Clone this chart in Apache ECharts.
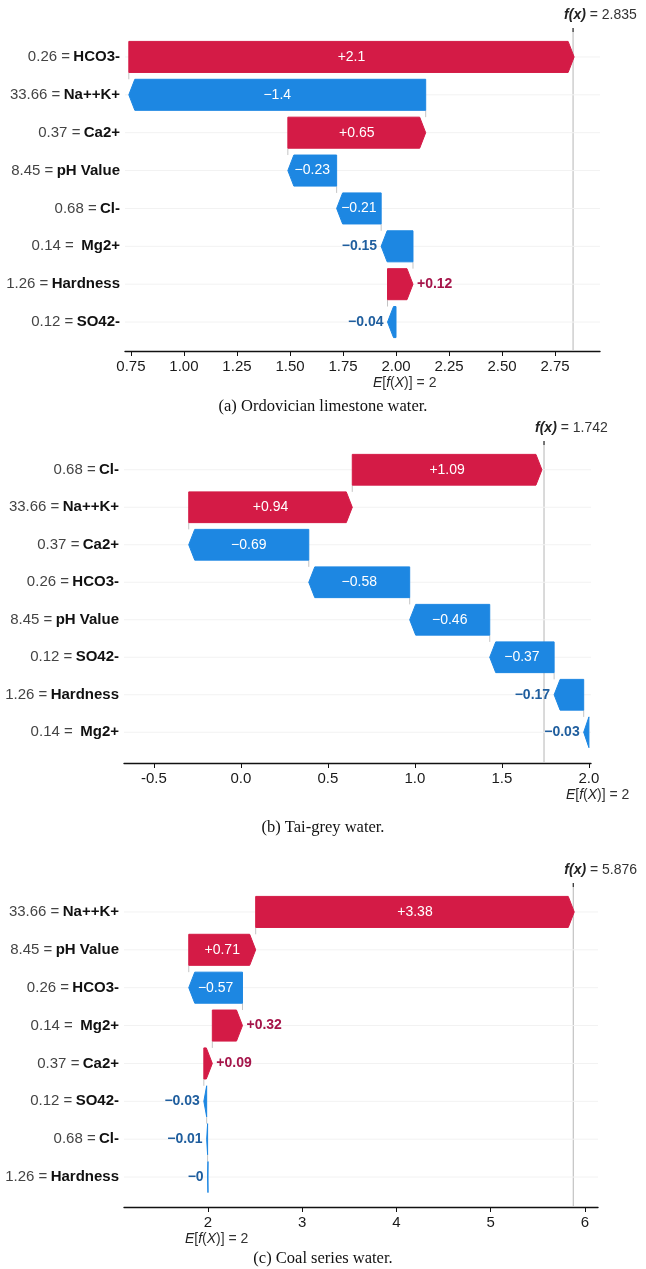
<!DOCTYPE html>
<html>
<head>
<meta charset="utf-8">
<script src="https://cdn.jsdelivr.net/npm/echarts@6/dist/echarts.min.js"></script>
<style>
html,body{margin:0;padding:0;background:#fff;}
#chart{width:646px;height:1269px;}
</style>
</head>
<body>
<div id="chart"></div>
<script>
// ---------- data ----------
const BASE_VALUE = 2;

const CATS_A = ['HCO3-', 'Na++K+', 'Ca2+', 'pH Value', 'Cl-', ' Mg2+', 'Hardness', 'SO42-'];
const FEAT_A = ['0.26', '33.66', '0.37', '8.45', '0.68', '0.14', '1.26', '0.12'];
const SHAP_A = [2.1, -1.4, 0.65, -0.23, -0.21, -0.15, 0.12, -0.04];
const FX_A = 2.835;
const TICKS_A = [0.75, 1.00, 1.25, 1.50, 1.75, 2.00, 2.25, 2.50, 2.75];

const CATS_B = ['Cl-', 'Na++K+', 'Ca2+', 'HCO3-', 'pH Value', 'SO42-', 'Hardness', ' Mg2+'];
const FEAT_B = ['0.68', '33.66', '0.37', '0.26', '8.45', '0.12', '1.26', '0.14'];
const SHAP_B = [1.09, 0.94, -0.69, -0.58, -0.46, -0.37, -0.17, -0.03];
const FX_B = 1.742;
const TICKS_B = [-0.5, 0.0, 0.5, 1.0, 1.5, 2.0];

const CATS_C = ['Na++K+', 'pH Value', 'HCO3-', ' Mg2+', 'Ca2+', 'SO42-', 'Cl-', 'Hardness'];
const FEAT_C = ['33.66', '8.45', '0.26', '0.14', '0.37', '0.12', '0.68', '1.26'];
const SHAP_C = [3.38, 0.71, -0.57, 0.32, 0.09, -0.03, -0.01, -0.004];
const FX_C = 5.876;
const TICKS_C = [2, 3, 4, 5, 6];

const CAPTIONS = ['(a) Ordovician limestone water.', '(b) Tai-grey water.', '(c) Coal series water.'];

// ---------- styling ----------
const RED = '#d41b46';
const BLUE = '#1d87e2';
const RED_TXT = '#a5154a';
const BLUE_TXT = '#1f5e9e';
const SANS = "'Liberation Sans', Arial, 'DejaVu Sans', sans-serif";
const SERIF = "'Liberation Serif', 'DejaVu Serif', serif";

const PANELS = [
  {cats: CATS_A, feat: FEAT_A, shap: SHAP_A, fx: FX_A, ticks: TICKS_A, dec: 2,
   grid: {left: 125, top: 38, width: 475, height: 303}, min: 0.722, max: 2.962, offset: 10},
  {cats: CATS_B, feat: FEAT_B, shap: SHAP_B, fx: FX_B, ticks: TICKS_B, dec: 1,
   grid: {left: 124, top: 451, width: 467, height: 300}, min: -0.672, max: 2.012, offset: 12},
  {cats: CATS_C, feat: FEAT_C, shap: SHAP_C, fx: FX_C, ticks: TICKS_C, dec: 0,
   grid: {left: 124, top: 893, width: 474, height: 303}, min: 1.109, max: 6.138, offset: 11}
];
const CAPTION_CENTERS = [407, 828, 1259];

function fmtShap(v) {
  const s = parseFloat(Math.abs(v).toFixed(2)).toString();
  return (v < 0 ? '\u2212' : '+') + s;
}

function buildRows(shap, base) {
  const n = shap.length;
  const rows = new Array(n);
  let cur = base;
  for (let i = n - 1; i >= 0; i--) {
    const start = cur, end = cur + shap[i];
    rows[i] = [start, end, i, shap[i]];
    cur = end;
  }
  return rows;
}

function barRenderer(n) {
  return function (params, api) {
    const s = api.value(0), e = api.value(1), idx = api.value(2), v = api.value(3);
    const p0 = api.coord([s, idx]);
    const p1 = api.coord([e, idx]);
    const band = api.size([0, 1])[1];
    const h = band * 0.82;
    const mid = p0[1], top = mid - h / 2, bot = mid + h / 2;
    const cs = params.coordSys;
    const children = [];
    children.push({type: 'line', shape: {x1: cs.x, y1: mid, x2: cs.x + cs.width, y2: mid},
      style: {stroke: '#f2f2f2', lineWidth: 1}});
    if (idx < n - 1) {
      children.push({type: 'line', shape: {x1: p0[0], y1: bot, x2: p0[0], y2: mid + band - h / 2},
        style: {stroke: '#c4c4c4', lineWidth: 1}});
    }
    const pos = v >= 0;
    const color = pos ? RED : BLUE;
    const x0 = p0[0], x1 = p1[0];
    const w = Math.abs(x1 - x0);
    const head = Math.min(6, w);
    let pts;
    if (pos) {
      pts = [[x0, top], [x1 - head, top], [x1, mid], [x1 - head, bot], [x0, bot]];
    } else {
      pts = [[x0, top], [x1 + head, top], [x1, mid], [x1 + head, bot], [x0, bot]];
    }
    children.push({type: 'polygon', shape: {points: pts},
      style: {fill: color, stroke: color, lineWidth: 1}});
    const txt = fmtShap(v);
    if (w > 40) {
      children.push({type: 'text', style: {text: txt, x: (x0 + x1) / 2, y: mid,
        align: 'center', verticalAlign: 'middle', fill: '#ffffff', font: '14px ' + SANS}});
    } else if (pos) {
      children.push({type: 'text', style: {text: txt, x: x1 + 4, y: mid,
        align: 'left', verticalAlign: 'middle', fill: RED_TXT, font: 'bold 14px ' + SANS}});
    } else {
      children.push({type: 'text', style: {text: txt, x: x1 - 4, y: mid,
        align: 'right', verticalAlign: 'middle', fill: BLUE_TXT, font: 'bold 14px ' + SANS}});
    }
    return {type: 'group', children: children};
  };
}

function refRenderer(panel) {
  return function (params, api) {
    const cs = params.coordSys;
    const fxX = api.coord([panel.fx, 0])[0];
    const eX = api.coord([BASE_VALUE, 0])[0];
    const axisY = cs.y + cs.height + panel.offset;
    const topY = cs.y - 10;
    return {type: 'group', children: [
      {type: 'line', shape: {x1: fxX, y1: topY, x2: fxX, y2: axisY},
        style: {stroke: '#c2c2c2', lineWidth: 1.2}},
      {type: 'line', shape: {x1: fxX, y1: topY, x2: fxX, y2: topY + 4},
        style: {stroke: '#333', lineWidth: 1.2}},
      {type: 'text', style: {
        text: '{i|f(x)} = ' + panel.fx.toFixed(3), x: fxX - 9, y: cs.y - 23,
        align: 'left', verticalAlign: 'middle', fill: '#333', font: '14px ' + SANS,
        rich: {i: {fontStyle: 'italic', fontWeight: 'bold', fontSize: 14, fontFamily: SANS, fill: '#222', color: '#222'}}}},
      {type: 'text', style: {
        text: '{i|E}[{i|f}({i|X})] = ' + BASE_VALUE, x: eX - 23, y: axisY + 32,
        align: 'left', verticalAlign: 'middle', fill: '#333', font: '14px ' + SANS,
        rich: {i: {fontStyle: 'italic', fontSize: 14, fontFamily: SANS, fill: '#222', color: '#222'}}}}
    ]};
  };
}

const grids = [], xAxes = [], yAxes = [], series = [], titles = [];
PANELS.forEach(function (p, k) {
  grids.push(Object.assign({containLabel: false}, p.grid));
  xAxes.push({
    gridIndex: k, type: 'value', min: p.min, max: p.max, position: 'bottom', offset: p.offset,
    axisLine: {show: true, onZero: false, lineStyle: {color: '#111', width: 1.4}},
    axisTick: {show: true, customValues: p.ticks, length: 5, lineStyle: {color: '#111', width: 1}},
    axisLabel: {customValues: p.ticks, formatter: function (v) { return v < 0 ? '-' + Math.abs(v).toFixed(p.dec) : v.toFixed(p.dec); },
      color: '#1a1a1a', fontSize: 15, margin: 8, fontFamily: SANS},
    splitLine: {show: false}
  });
  yAxes.push({
    gridIndex: k, type: 'category', data: p.cats, inverse: true,
    axisLine: {show: false}, axisTick: {show: false}, splitLine: {show: false},
    axisLabel: {margin: 5, formatter: function (value, index) {
        return '{v|' + p.feat[index] + ' =} {n|' + value + '}';
      },
      rich: {
        v: {color: '#444', fontSize: 15, fontFamily: SANS},
        n: {color: '#111', fontSize: 15, fontWeight: 'bold', fontFamily: SANS}
      }}
  });
  series.push({
    type: 'custom', xAxisIndex: k, yAxisIndex: k, z: 1, silent: true, clip: false,
    renderItem: refRenderer(p), data: [[p.fx, 0]], encode: {x: 0, y: 1}
  });
  series.push({
    type: 'custom', xAxisIndex: k, yAxisIndex: k, z: 2, silent: true, clip: false,
    renderItem: barRenderer(p.cats.length), data: buildRows(p.shap, BASE_VALUE),
    encode: {x: [0, 1], y: 2}
  });
  titles.push({text: CAPTIONS[k], left: 'center', top: CAPTION_CENTERS[k] - 9, padding: 0,
    textStyle: {fontFamily: SERIF, fontSize: 16.5, fontWeight: 'normal', color: '#111'}});
});

const chart = echarts.init(document.getElementById('chart'), null, {renderer: 'canvas'});
chart.setOption({
  backgroundColor: '#ffffff',
  animation: false,
  title: titles,
  grid: grids,
  xAxis: xAxes,
  yAxis: yAxes,
  series: series
});
</script>
</body>
</html>
